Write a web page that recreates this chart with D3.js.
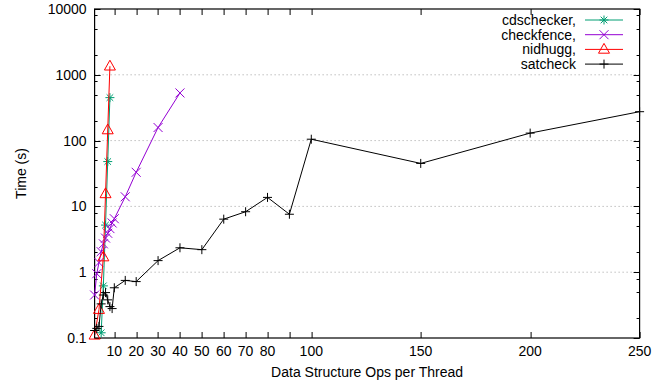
<!DOCTYPE html>
<html lang="en">
<head>
<meta charset="UTF-8">
<title>Time vs Data Structure Ops</title>
<style>
  body { margin: 0; background: #fff; }
  svg text { font-family: "Liberation Sans", Arial, Helvetica, sans-serif; font-size: 14px; fill: #000; }
</style>
</head>
<body>
<svg width="670" height="385"></svg>
<script src="https://d3js.org/d3.v7.min.js"></script>
<script>
// data
var cdsX = [4, 5, 6, 7, 8];
var cdsY = [0.12, 0.62, 5.2, 48, 450];

var fenceX = [1, 2, 3, 4, 5, 6, 7, 8, 9, 10, 15, 20, 30, 40];
var fenceY = [0.45, 0.95, 1.4, 2.05, 2.7, 3.3, 3.9, 4.6, 5.6, 6.5, 14, 33, 158, 530];

var nidX = [1, 3, 5, 6, 7, 8];
var nidY = [0.11, 0.27, 1.7, 15.5, 145, 1350];

var satX = [1, 2, 3, 4, 5, 6, 7, 8, 9, 10, 15, 20, 30, 40, 50, 60, 70, 80, 90, 100, 150, 200, 250];
var satY = [0.13, 0.14, 0.15, 0.33, 0.45, 0.49, 0.38, 0.3, 0.28, 0.58, 0.75, 0.72, 1.5, 2.35, 2.2, 6.4, 8.3, 13.7, 7.6, 105, 45, 130, 275];

var xTicks = [10, 20, 30, 40, 50, 60, 70, 80, 90, 100, 150, 200, 250];
var xTickLabels = ["10", "20", "30", "40", "50", "60", "70", "80", "", "100", "150", "200", "250"];
var yTicks = [0.1, 1, 10, 100, 1000, 10000];
var yTickLabels = ["0.1", "1", "10", "100", "1000", "10000"];
var yGrid = [1, 10, 100, 1000];

var series = [
    {name: "cdschecker,", xs: cdsX, ys: cdsY, color: "#009e73", mark: "star"},
    {name: "checkfence,", xs: fenceX, ys: fenceY, color: "#9400d3", mark: "cross"},
    {name: "nidhugg,", xs: nidX, ys: nidY, color: "#ff0000", mark: "tri"},
    {name: "satcheck", xs: satX, ys: satY, color: "#000000", mark: "plus"}
];

var svg = d3.select("svg"),
    margin = {top: 9, right: 30.4, bottom: 47, left: 94.6};
var width = +svg.attr("width") - margin.left - margin.right;
var height = +svg.attr("height") - margin.top - margin.bottom;

var g = svg.append("g").attr("transform", "translate(" + margin.left + "," + margin.top + ")");

var x = d3.scaleLinear().domain([1, 250]).range([0, width]);
var y = d3.scaleLog().domain([0.1, 10000]).range([height, 0]);

// dotted grid
g.selectAll(".grid").data(yGrid).enter().append("line")
    .attr("x1", 0).attr("x2", width)
    .attr("y1", function(d) { return y(d); }).attr("y2", function(d) { return y(d); })
    .attr("stroke", "#a0a0a0").attr("stroke-width", 1).attr("stroke-dasharray", "1,3");

// minor y ticks at 2, 5, 8 of each decade
var minor = [];
[0.1, 1, 10, 100, 1000].forEach(function(b) { [2, 5, 8].forEach(function(m) { minor.push(b * m); }); });

function tickLines(sel, data, len, isY) {
    sel.selectAll(null).data(data).enter().append("path")
        .attr("stroke", "#000").attr("stroke-width", 1).attr("fill", "none")
        .attr("d", function(d) {
            if (isY) {
                var yy = Math.round(y(d)) + 0.5;
                return "M0," + yy + "h" + len + "M" + width + "," + yy + "h" + (-len);
            }
            var xx = Math.round(x(d)) + 0.5;
            return "M" + xx + "," + height + "v" + (-len) + "M" + xx + ",0v" + len;
        });
}
var ticks = g.append("g");
tickLines(ticks, yTicks, 6, true);
tickLines(ticks, minor, 3, true);
tickLines(ticks, xTicks, 6, false);

// tick labels
g.selectAll(".ylab").data(yTicks).enter().append("text")
    .attr("x", -8).attr("y", function(d) { return y(d); })
    .attr("dy", "0.35em").attr("text-anchor", "end")
    .text(function(d, i) { return yTickLabels[i]; });

g.selectAll(".xlab").data(xTicks).enter().append("text")
    .attr("x", function(d) { return x(d); }).attr("y", height + 18)
    .attr("text-anchor", "middle")
    .text(function(d, i) { return xTickLabels[i]; });

// border
g.append("rect").attr("x", 0).attr("y", 0).attr("width", width).attr("height", height)
    .attr("fill", "none").attr("stroke", "#000").attr("stroke-width", 1.2);

// axis titles
svg.append("text").attr("transform", "translate(26," + (margin.top + height / 2) + ") rotate(-90)")
    .attr("text-anchor", "middle").text("Time (s)");
svg.append("text").attr("x", margin.left + width / 2).attr("y", 377)
    .attr("text-anchor", "middle").text("Data Structure Ops per Thread");

var markPath = {
    plus: "M-4.5,0H4.5M0,-4.5V4.5",
    cross: "M-4.5,-4.5L4.5,4.5M-4.5,4.5L4.5,-4.5",
    star: "M-4.5,0H4.5M0,-4.5V4.5M-3.3,-3.3L3.3,3.3M-3.3,3.3L3.3,-3.3",
    tri: "M0,-6L5.5,3.8H-5.5Z"
};

var line = d3.line().x(function(d) { return x(d[0]); }).y(function(d) { return y(d[1]); });

series.forEach(function(s) {
    var pts = s.xs.map(function(v, i) { return [v, s.ys[i]]; });
    g.append("path").datum(pts).attr("d", line)
        .attr("fill", "none").attr("stroke", s.color).attr("stroke-width", 1);
    g.selectAll(null).data(pts).enter().append("path")
        .attr("transform", function(d) { return "translate(" + x(d[0]) + "," + y(d[1]) + ")"; })
        .attr("d", markPath[s.mark])
        .attr("fill", "none").attr("stroke", s.color).attr("stroke-width", 1);
});

// legend
var legend = svg.append("g");
series.forEach(function(s, i) {
    var ly = 20 + i * 14.7;
    legend.append("text").attr("x", 576).attr("y", ly).attr("dy", "0.35em")
        .attr("text-anchor", "end").text(s.name);
    legend.append("line").attr("x1", 585).attr("x2", 623).attr("y1", ly).attr("y2", ly)
        .attr("stroke", s.color).attr("stroke-width", 1);
    legend.append("path").attr("transform", "translate(604," + ly + ")")
        .attr("d", markPath[s.mark]).attr("fill", "none").attr("stroke", s.color);
});
</script>
</body>
</html>
